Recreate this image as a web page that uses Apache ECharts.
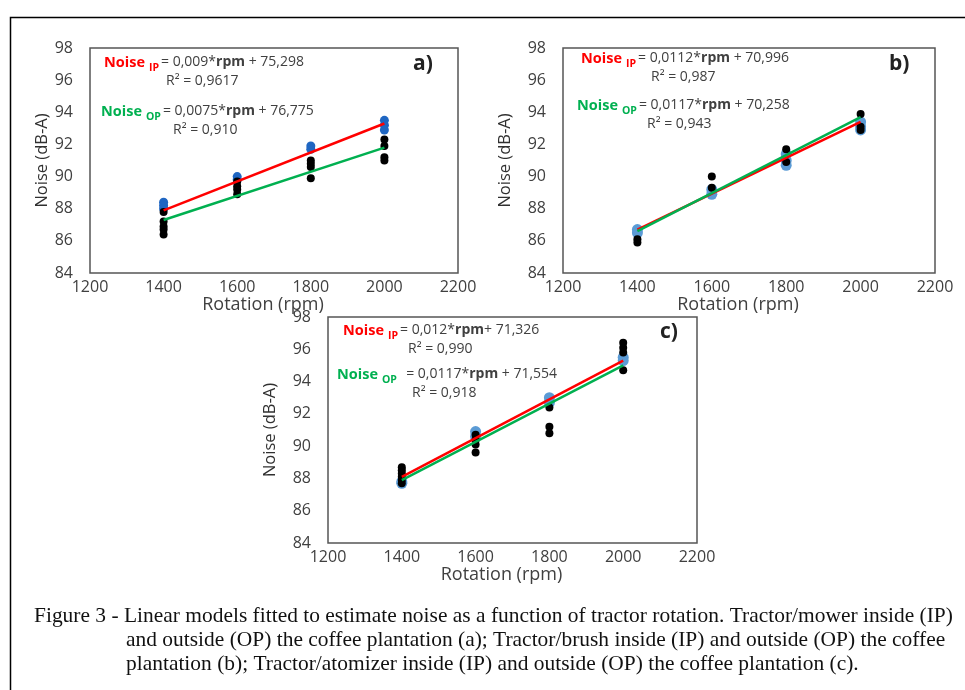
<!DOCTYPE html>
<html>
<head>
<meta charset="utf-8">
<script src="https://cdn.jsdelivr.net/npm/echarts@6/dist/echarts.min.js"></script>
<style>
  html, body { margin: 0; padding: 0; background: #fff; }
  #chart { width: 965px; height: 690px; }
</style>
</head>
<body>
<div id="chart"></div>
<script>
// rotation ticks and noise ticks
const xTicks = [1200, 1400, 1600, 1800, 2000, 2200]
const yTicks = [84, 86, 88, 90, 92, 94, 96, 98]

// panel a) tractor/mower
const aIP = [[1400, 88.4], [1400, 88.2], [1400, 88.0], [1600, 90.0], [1600, 89.8], [1800, 91.9], [1800, 91.7], [2000, 93.5], [2000, 93.2], [2000, 92.9]]
const aOP = [[1400, 87.8], [1400, 87.2], [1400, 86.9], [1400, 86.7], [1400, 86.4], [1600, 89.7], [1600, 89.4], [1600, 89.2], [1600, 88.9],
  [1800, 91.0], [1800, 90.8], [1800, 90.6], [1800, 89.9], [2000, 92.3], [2000, 91.9], [2000, 91.2], [2000, 91.0]]
const aFitIP = [[1400, 87.9], [2000, 93.3]]
const aFitOP = [[1400, 87.3], [2000, 91.8]]

// panel b) tractor/brush
const bIP = [[1400, 86.7], [1400, 86.5], [1600, 89.2], [1600, 88.9], [1800, 91.4], [1800, 91.0], [1800, 90.7], [2000, 93.4], [2000, 93.1], [2000, 92.9]]
const bOP = [[1400, 86.1], [1400, 85.9], [1600, 90.0], [1600, 89.3], [1800, 91.7], [1800, 90.9], [2000, 93.9], [2000, 93.1], [2000, 92.9]]
const bFitIP = [[1400, 86.7], [2000, 93.4]]
const bFitOP = [[1400, 86.6], [2000, 93.7]]

// panel c) tractor/atomizer
const cIP = [[1400, 87.8], [1400, 87.7], [1600, 90.9], [1600, 90.6], [1800, 93.0], [1800, 92.7], [2000, 95.5], [2000, 95.3]]
const cOP = [[1400, 88.7], [1400, 88.5], [1400, 88.3], [1400, 88.1], [1400, 87.9], [1400, 87.7], [1600, 90.7], [1600, 90.4], [1600, 90.1], [1600, 89.6],
  [1800, 92.4], [1800, 91.2], [1800, 90.8], [2000, 96.4], [2000, 96.1], [2000, 95.8], [2000, 94.7]]
const cFitIP = [[1400, 88.1], [2000, 95.3]]
const cFitOP = [[1400, 87.9], [2000, 95.0]]

// equation labels
const eqIP = ['= 0,009*{b|rpm} + 75,298', '= 0,0112*{b|rpm} + 70,996', '= 0,012*{b|rpm}+ 71,326']
const r2IP = ['R² = 0,9617', 'R² = 0,987', 'R² = 0,990']
const eqOP = ['= 0,0075*{b|rpm} + 76,775', '= 0,0117*{b|rpm} + 70,258', '  = 0,0117*{b|rpm} + 71,554']
const r2OP = ['R² = 0,910', 'R² = 0,943', 'R² = 0,918']
const panelTags = ['a)', 'b)', 'c)']

const caption = [
  'Figure 3 - Linear models fitted to estimate noise as a function of tractor rotation. Tractor/mower inside (IP)',
  'and outside (OP) the coffee plantation (a); Tractor/brush inside (IP) and outside (OP) the coffee',
  'plantation (b); Tractor/atomizer inside (IP) and outside (OP) the coffee plantation (c).'
]

const FONT = '"Open Sans", "Noto Sans", sans-serif'
const TXT = '#404040'

const grids = [
  { left: 90, top: 48, width: 368, height: 225 },
  { left: 563, top: 48, width: 372, height: 225 },
  { left: 328, top: 317, width: 369, height: 226 }
]
const yNameGap = [37, 49, 49]
const ipColor = ['#1f66c2', '#5b9bd5', '#5b9bd5']
const ipSize = [9, 11, 11]

// annotation anchors (px)
const notePos = [
  { eq1: [104, 66], r1: [166, 85], eq2: [101, 115], r2: [173, 134], tag: [413, 67] },
  { eq1: [581, 62], r1: [651, 81], eq2: [577, 109], r2: [647, 128], tag: [889, 67] },
  { eq1: [343, 334], r1: [408, 353], eq2: [337, 378], r2: [412, 397], tag: [660, 335] }
]

const rich = {
  r: { fill: '#ff0000', fontWeight: 'bold', fontSize: 14.5, fontFamily: FONT, lineHeight: 22 },
  g: { fill: '#00b050', fontWeight: 'bold', fontSize: 14.5, fontFamily: FONT, lineHeight: 22 },
  rs: { fill: '#ff0000', fontWeight: 'bold', fontSize: 10.5, fontFamily: FONT, lineHeight: 22, verticalAlign: 'bottom', padding: [0, 2, 0, 4] },
  gs: { fill: '#00b050', fontWeight: 'bold', fontSize: 10.5, fontFamily: FONT, lineHeight: 22, verticalAlign: 'bottom', padding: [0, 2, 0, 4] },
  n: { fill: TXT, fontSize: 14, fontFamily: FONT, lineHeight: 22 },
  b: { fill: TXT, fontSize: 14, fontWeight: 'bold', fontFamily: FONT, lineHeight: 22 }
}

function wrapN(s) {
  // wrap plain parts in {n|...}, keep {b|...} parts
  return s.split(/(\{b\|[^}]*\})/).map(p => p.startsWith('{b|') ? p : (p ? '{n|' + p + '}' : '')).join('')
}

const xAxes = [], yAxes = [], series = [], graphics = []
const ipSets = [aIP, bIP, cIP], opSets = [aOP, bOP, cOP]
const fitIP = [aFitIP, bFitIP, cFitIP], fitOP = [aFitOP, bFitOP, cFitOP]

for (let i = 0; i < 3; i++) {
  xAxes.push({
    gridIndex: i, type: 'value', min: xTicks[0], max: xTicks[xTicks.length - 1], interval: 200,
    name: 'Rotation (rpm)', nameLocation: 'middle', nameGap: 17,
    nameTextStyle: { color: TXT, fontSize: 18, fontFamily: FONT, padding: [0, 22, 0, 0] },
    axisLine: { show: false }, axisTick: { show: false }, splitLine: { show: false },
    axisLabel: { color: TXT, fontSize: 16, fontFamily: FONT, margin: 6, formatter: v => String(v) }
  })
  yAxes.push({
    gridIndex: i, type: 'value', min: yTicks[0], max: yTicks[yTicks.length - 1], interval: 2,
    name: 'Noise (dB-A)', nameLocation: 'middle', nameGap: yNameGap[i],
    nameTextStyle: { color: '#303030', fontSize: 16.5, fontFamily: FONT },
    axisLine: { show: false }, axisTick: { show: false }, splitLine: { show: false },
    axisLabel: { color: TXT, fontSize: 16, fontFamily: FONT, margin: 17 }
  })
  series.push({
    type: 'scatter', xAxisIndex: i, yAxisIndex: i, data: ipSets[i], symbolSize: ipSize[i],
    itemStyle: { color: ipColor[i], opacity: 1 }, z: 2
  })
  series.push({
    type: 'scatter', xAxisIndex: i, yAxisIndex: i, data: opSets[i], symbolSize: 8,
    itemStyle: { color: '#000', opacity: 1 }, z: 3
  })
  series.push({
    type: 'line', xAxisIndex: i, yAxisIndex: i, data: fitIP[i], showSymbol: false,
    lineStyle: { color: '#ff0000', width: 2.5 }, z: 4
  })
  series.push({
    type: 'line', xAxisIndex: i, yAxisIndex: i, data: fitOP[i], showSymbol: false,
    lineStyle: { color: '#00b050', width: 2.5 }, z: 5
  })

  const p = notePos[i]
  graphics.push({
    type: 'text', left: p.eq1[0], top: p.eq1[1] - 11, z: 10,
    style: { text: '{r|Noise}{rs|IP}' + wrapN(eqIP[i]), rich: rich }
  })
  graphics.push({
    type: 'text', left: p.r1[0], top: p.r1[1] - 11, z: 10,
    style: { text: '{n|' + r2IP[i] + '}', rich: rich }
  })
  graphics.push({
    type: 'text', left: p.eq2[0], top: p.eq2[1] - 11, z: 10,
    style: { text: '{g|Noise}{gs|OP}' + wrapN(eqOP[i]), rich: rich }
  })
  graphics.push({
    type: 'text', left: p.r2[0], top: p.r2[1] - 11, z: 10,
    style: { text: '{n|' + r2OP[i] + '}', rich: rich }
  })
  graphics.push({
    type: 'text', left: p.tag[0], top: p.tag[1] - 13, z: 10,
    style: { text: panelTags[i], fill: '#222', font: 'bold 21px ' + FONT }
  })
}

// outer frame
graphics.push({
  type: 'rect', left: 8, top: 15, z: 0,
  shape: { width: 1000, height: 700 },
  style: { fill: 'none', stroke: '#000', lineWidth: 1.5 }
})

// caption
const capX = [34, 126, 126]
const capY = [616, 640, 664]
caption.forEach((t, k) => {
  graphics.push({
    type: 'text', x: capX[k], y: capY[k], z: 10, scaleX: 0.975,
    style: { text: t, fill: '#111', font: '22px "Liberation Serif", serif', textVerticalAlign: 'middle' }
  })
})

const chart = echarts.init(document.getElementById('chart'))
chart.setOption({
  backgroundColor: '#fff',
  animation: false,
  grid: grids.map(g => Object.assign({ show: true, borderColor: '#555', borderWidth: 1.5, backgroundColor: 'transparent' }, g)),
  xAxis: xAxes,
  yAxis: yAxes,
  series: series,
  graphic: graphics
})
</script>
</body>
</html>
